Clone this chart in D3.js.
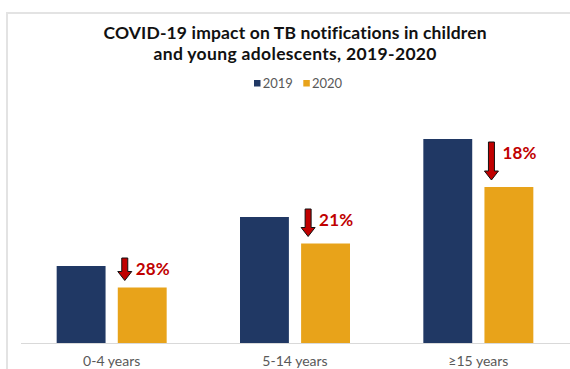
<!DOCTYPE html>
<html><head><meta charset="utf-8">
<script src="https://cdn.jsdelivr.net/npm/d3@7"></script>
<style>html,body{margin:0;padding:0;background:#fff;}svg{display:block;}text{font-variant-ligatures:none;}</style>
</head><body>
<svg id="chart" width="570" height="369"></svg>
<script>
const categories = ["0-4 years", "5-14 years", "≥15 years"];
const seriesNames = ["2019", "2020"];
const values2019 = [77, 126, 204];
const values2020 = [55.5, 99.5, 156];
const declineLabels = ["28%", "21%", "18%"];
const titleLines = ["COVID-19 impact on TB notifications in children", "and young adolescents, 2019-2020"];

const colors = {"2019": "#203864", "2020": "#E8A31A"};
const svg = d3.select("#chart");
const W = 570, H = 369;
const baseY = 343;

// frame
svg.append("path").attr("d", `M7,${H} L7,13 L${W},13`).attr("fill","none").attr("stroke","#e3e3e3").attr("stroke-width",2);

const x0 = d3.scaleBand().domain(categories).range([20, 570]).paddingInner(0.4).paddingOuter(0.2);
const x1 = d3.scaleBand().domain(seriesNames).range([0, x0.bandwidth()]).paddingInner(0.2).paddingOuter(0);
const y = d3.scaleLinear().domain([0, 210]).range([baseY, baseY - 210]);

const data = categories.map((c, i) => ({cat: c, vals: {"2019": values2019[i], "2020": values2020[i]}, label: declineLabels[i]}));

// axis
const xAxis = d3.axisBottom(x0).tickSize(0).tickPadding(13);
const ax = svg.append("g").attr("transform", `translate(0,${baseY})`).call(xAxis);
ax.select(".domain").remove();
svg.append("line").attr("x1", 21).attr("x2", W).attr("y1", baseY + 0.5).attr("y2", baseY + 0.5).attr("stroke", "#d9d9d9").attr("stroke-width", 1);
ax.selectAll("text").attr("font-family", "Lato, sans-serif").attr("font-size", 14).attr("fill", "#595959");

// bars
const g = svg.append("g");
data.forEach(d => {
  seriesNames.forEach(s => {
    g.append("rect")
      .attr("x", x0(d.cat) + x1(s))
      .attr("y", y(d.vals[s]))
      .attr("width", x1.bandwidth())
      .attr("height", baseY - y(d.vals[s]))
      .attr("fill", colors[s]);
  });
});

// arrows + labels
data.forEach(d => {
  const ax0 = x0(d.cat) + x1("2020");
  const bottom = y(d.vals["2020"]) - 7;
  const top = Math.max(y(d.vals["2019"]) - 8, bottom - 38);
  const w = 14, sw = 6, hl = 9;
  const cx = ax0 + w / 2;
  const path = `M${cx - sw/2},${top} L${cx + sw/2},${top} L${cx + sw/2},${bottom - hl} L${ax0 + w},${bottom - hl} L${cx},${bottom} L${ax0},${bottom - hl} L${cx - sw/2},${bottom - hl} Z`;
  svg.append("path").attr("d", path).attr("fill", "#C00000").attr("stroke", "#111").attr("stroke-width", 1).attr("stroke-linejoin","miter");
  svg.append("text").attr("x", ax0 + 18).attr("y", top + 16.5)
    .attr("font-family", "Lato, sans-serif").attr("font-weight", "bold").attr("font-size", 17)
    .attr("fill", "#C00000").attr("textLength", 34).attr("lengthAdjust", "spacing").text(d.label);
});

// title
const titleY = [39.3, 59.5];
const titleW = [383, 283];
titleLines.forEach((t, i) => {
  svg.append("text").attr("x", 295).attr("y", titleY[i]).attr("text-anchor", "middle")
    .attr("font-family", "Lato, sans-serif").attr("font-weight", "bold").attr("font-size", 17.5)
    .attr("fill", "#111").attr("textLength", titleW[i]).attr("lengthAdjust", "spacing").text(t);
});

// legend
const legX = [254, 303.3];
seriesNames.forEach((s, i) => {
  svg.append("rect").attr("x", legX[i]).attr("y", 80).attr("width", 6.5).attr("height", 6.5).attr("fill", colors[s]);
  svg.append("text").attr("x", legX[i] + 8.7).attr("y", 87.7).attr("font-family", "Lato, sans-serif")
    .attr("font-size", 13).attr("fill", "#595959").text(s);
});
</script>
</body></html>
